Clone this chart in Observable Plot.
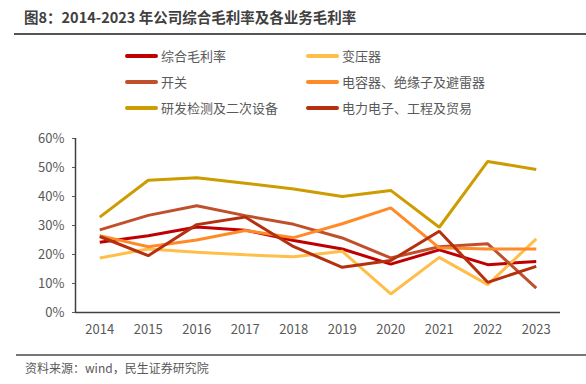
<!DOCTYPE html>
<html>
<head>
<meta charset="utf-8">
<script src="https://cdn.jsdelivr.net/npm/d3@7"></script>
<script src="https://cdn.jsdelivr.net/npm/@observablehq/plot@0.6"></script>
<style>
  html, body { margin: 0; padding: 0; background: #fff; }
  body { width: 586px; height: 384px; position: relative; overflow: hidden;
         font-family: "Noto Sans CJK SC", "Noto Sans", sans-serif; }
  #title { position: absolute; left: 24px; top: 6px; font-size: 14.5px; font-weight: bold; color: #404040; }
  #tline { position: absolute; left: 14px; right: 0; top: 33px; height: 2px; background: #555; }
  #legend { position: absolute; left: 0; top: 46px; width: 586px; }
  .item { position: absolute; font-size: 13px; color: #595959; line-height: 20px; white-space: nowrap; }
  .sw { display: inline-block; width: 33px; height: 4px; border-radius: 2px; vertical-align: middle; margin-right: 3px; position: relative; top: -1px; }
  #chart { position: absolute; left: 0; top: 120px; }
  #fline { position: absolute; left: 16px; right: 0; top: 354px; height: 2px; background: #777; }
  #source { position: absolute; left: 25px; top: 359px; font-size: 12px; color: #595959; }
</style>
</head>
<body>
<div id="title">图8：2014-2023 年公司综合毛利率及各业务毛利率</div>
<div id="tline"></div>
<div id="legend"></div>
<div id="chart"></div>
<div id="fline"></div>
<div id="source">资料来源：wind，民生证券研究院</div>
<script>
const years = [2014, 2015, 2016, 2017, 2018, 2019, 2020, 2021, 2022, 2023];
const seriesNames = ["综合毛利率", "变压器", "开关", "电容器、绝缘子及避雷器", "研发检测及二次设备", "电力电子、工程及贸易"];
const seriesColors = ["#C00000", "#FFBE4A", "#C0502C", "#FF8A28", "#CC9C00", "#B5300E"];
const zonghe   = [24.2, 26.5, 29.5, 28.4, 24.8, 21.9, 16.7, 21.6, 16.5, 17.6];
const bianyaqi = [18.8, 21.9, 20.8, 19.9, 19.2, 21.1, 6.4, 19.0, 9.6, 25.4];
const kaiguan  = [28.5, 33.5, 36.8, 33.4, 30.4, 25.7, 18.8, 22.7, 23.7, 8.4];
const dianrong = [26.5, 22.7, 25.0, 28.3, 25.8, 30.6, 36.1, 22.3, 21.9, 21.9];
const yanfa    = [32.9, 45.6, 46.5, 44.6, 42.6, 40.0, 42.1, 29.4, 52.1, 49.3];
const dianli   = [26.2, 19.6, 30.3, 32.9, 22.7, 15.6, 17.9, 28.0, 10.4, 15.9];
const yTicks = [0, 10, 20, 30, 40, 50, 60];

const seriesValues = [zonghe, bianyaqi, kaiguan, dianrong, yanfa, dianli];
const rows = [];
seriesNames.forEach((name, i) => {
  years.forEach((yr, j) => rows.push({series: name, year: yr, value: seriesValues[i][j]}));
});

// legend (2 columns, 3 rows)
const legend = document.getElementById("legend");
const legendOrder = [[0, 1], [2, 3], [4, 5]];
legendOrder.forEach((pair, r) => {
  pair.forEach((idx, c) => {
    const d = document.createElement("div");
    d.className = "item";
    d.style.left = (c === 0 ? 125 : 306) + "px";
    d.style.top = (r * 26) + "px";
    d.innerHTML = `<span class="sw" style="background:${seriesColors[idx]}"></span>${seriesNames[idx]}`;
    legend.appendChild(d);
  });
});

const chart = Plot.plot({
  width: 586,
  height: 225,
  marginTop: 18,
  marginBottom: 33,
  marginLeft: 75,
  marginRight: 26,
  style: {fontFamily: "'Noto Sans CJK SC', 'Noto Sans', sans-serif", fontSize: "13px", color: "#595959", background: "#fff"},
  x: {domain: [2013.5, 2023.5], ticks: years, tickFormat: d => String(d), tickSize: 0, tickPadding: 12, label: null},
  y: {domain: [0, 60], ticks: yTicks, tickFormat: d => d + "%", tickSize: 3, tickPadding: 8, label: null},
  color: {domain: seriesNames, range: seriesColors},
  marks: [
    Plot.ruleY([0], {stroke: "#404040", strokeWidth: 1.5}),
    Plot.ruleX([2013.5], {stroke: "#404040", strokeWidth: 1.5}),
    Plot.line(rows, {x: "year", y: "value", z: "series", stroke: "series", strokeWidth: 3, strokeLinejoin: "miter", strokeLinecap: "butt"})
  ]
});
document.getElementById("chart").appendChild(chart);
</script>
</body>
</html>
